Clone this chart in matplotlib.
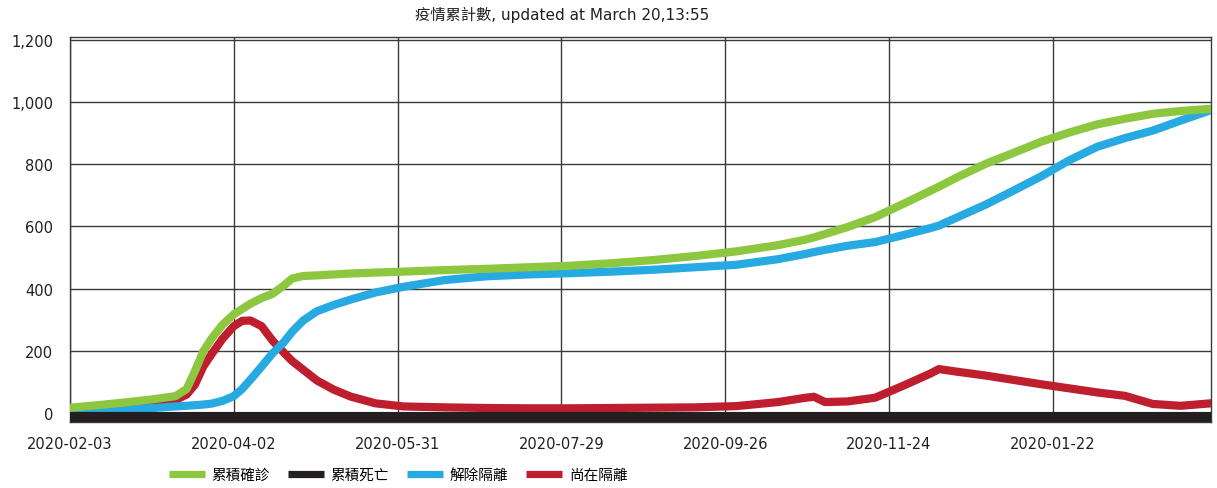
import pandas as pd
import matplotlib.pyplot as plt
import matplotlib.transforms as mtransforms
from matplotlib.lines import Line2D
from matplotlib.ticker import FuncFormatter

plt.rcParams['font.family'] = ['DejaVu Sans', 'Noto Sans CJK TC']

dates = pd.to_datetime([
    '2020-02-03', '2020-02-13', '2020-02-23', '2020-03-04', '2020-03-12', '2020-03-16',
    '2020-03-19', '2020-03-22', '2020-03-25', '2020-03-29', '2020-04-02', '2020-04-05',
    '2020-04-08', '2020-04-12', '2020-04-16', '2020-04-20', '2020-04-23', '2020-04-27',
    '2020-05-02', '2020-05-08', '2020-05-14', '2020-05-23', '2020-06-02', '2020-06-17',
    '2020-07-02', '2020-07-17', '2020-08-01', '2020-08-16', '2020-08-31', '2020-09-15',
    '2020-09-30', '2020-10-15', '2020-10-25', '2020-10-28', '2020-11-01', '2020-11-09',
    '2020-11-19', '2020-11-29', '2020-12-09', '2020-12-12', '2020-12-19', '2020-12-29',
    '2021-01-08', '2021-01-18', '2021-01-28', '2021-02-07', '2021-02-17', '2021-02-27',
    '2021-03-09', '2021-03-20'])

confirmed = [18, 26, 35, 45, 55, 78, 135, 199, 240, 285, 318, 335,
             352, 370, 384, 410, 433, 441, 443, 446, 449, 452, 455, 460,
             464, 469, 474, 482, 492, 505, 520, 540, 558, 565, 576, 598,
             630, 672, 715, 728, 760, 802, 837, 873, 902, 928, 946, 962,
             971, 978]
deaths = [0] * 50
recovered = [7, 9, 12, 17, 22, 24, 26, 28, 31, 40, 55, 78,
             108, 150, 193, 228, 262, 298, 328, 348, 365, 388, 406, 428,
             440, 446, 450, 455, 461, 469, 477, 495, 512, 518, 525, 538,
             550, 572, 595, 603, 631, 671, 716, 762, 813, 856, 884, 908,
             940, 974]
isolated = [8, 16, 24, 32, 43, 60, 92, 150, 190, 240, 280, 297,
            298, 280, 233, 195, 168, 140, 105, 76, 54, 32, 22, 19,
            17, 16, 16, 17, 18, 19, 23, 36, 50, 53, 36, 38,
            50, 88, 128, 142, 133, 121, 107, 93, 80, 67, 56, 30,
            24, 32]

tick_dates = pd.to_datetime(['2020-02-03', '2020-04-02', '2020-05-31', '2020-07-29',
                             '2020-09-26', '2020-11-24', '2021-01-22'])
tick_labels = ['2020-02-03', '2020-04-02', '2020-05-31', '2020-07-29',
               '2020-09-26', '2020-11-24', '2020-01-22']

names = ['累積確診', '累積死亡', '解除隔離', '尚在隔離']
colors = ['#8DC63F', '#231F20', '#27AAE1', '#BE1E2D']

fig = plt.figure(figsize=(12.17, 4.89), dpi=100)
ax = fig.add_axes([70 / 1217, 66 / 489, 1141 / 1217, 385.4 / 489])

ax.plot(dates, isolated, color=colors[3], lw=5.9, zorder=3)
ax.plot(dates, recovered, color=colors[2], lw=5.9, zorder=4)
# deaths line sits just under the zero line in the original
shift = mtransforms.offset_copy(ax.transData, fig=fig, y=-4, units='dots')
ax.plot(dates, deaths, color=colors[1], lw=7.3, zorder=5, transform=shift,
        solid_capstyle='butt')
ax.plot(dates, confirmed, color=colors[0], lw=5.9, zorder=6)

ax.set_xlim(dates[0], dates[-1])
ax.set_ylim(-28, 1210)
ax.set_yticks(range(0, 1201, 200))
ax.yaxis.set_major_formatter(FuncFormatter(lambda v, p: f'{v:,.0f}'))
ax.set_xticks(tick_dates)
ax.set_xticklabels(tick_labels)
ax.tick_params(length=0, labelsize=10.5, colors='#231F20')
ax.tick_params(axis='y', pad=12)
ax.tick_params(axis='x', pad=10)
ax.grid(color='#3a3a3a', lw=1.0, zorder=1)
for s in ax.spines.values():
    s.set_color('#3a3a3a')
    s.set_linewidth(1.0)

fig.text(562 / 1217, 1 - 15 / 489, '疫情累計數, updated at March 20,13:55',
         ha='center', va='center', fontsize=11, color='#231F20')

handles = [Line2D([], [], color=c, lw=5.2, solid_capstyle='butt') for c in colors]
fig.legend(handles, names, loc='center', bbox_to_anchor=(398 / 1217, 13 / 489),
           ncol=4, frameon=False, handlelength=2.5, handletextpad=0.45,
           columnspacing=1.2, prop={'family': 'Noto Sans CJK TC', 'size': 10.5})

fig.savefig('out.png', dpi=100)
